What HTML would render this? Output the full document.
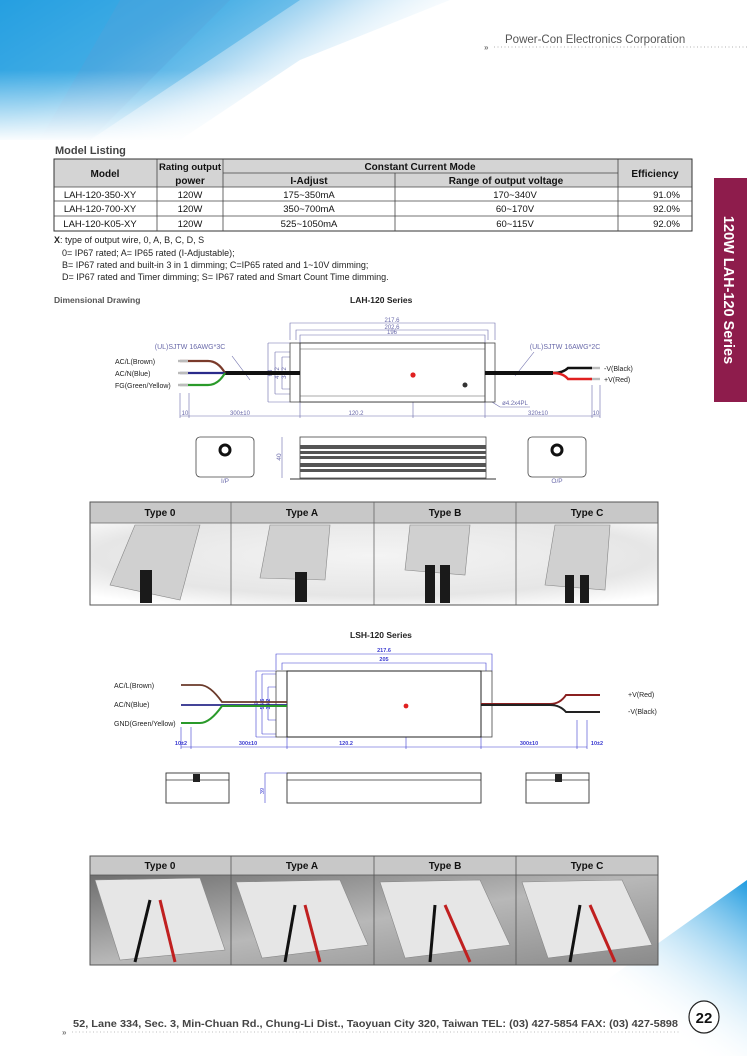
<!DOCTYPE html>
<html><head><meta charset="utf-8"><style>
html,body{margin:0;padding:0;background:#fff}
body{width:747px;height:1056px;position:relative;overflow:hidden;font-family:"Liberation Sans",sans-serif}
svg text{font-family:"Liberation Sans",sans-serif}
</style></head><body>
<svg width="747" height="1056" viewBox="0 0 747 1056" xmlns="http://www.w3.org/2000/svg">
<defs>
<linearGradient id="hd" x1="0" y1="0" x2="1" y2="0.5">
<stop offset="0" stop-color="#1e9be0"/><stop offset="0.35" stop-color="#4fb2e6"/><stop offset="0.6" stop-color="#b9def4"/><stop offset="0.9" stop-color="#fff" stop-opacity="0"/></linearGradient>
<linearGradient id="hd2" x1="0" y1="0" x2="0" y2="1"><stop offset="0" stop-color="#fff" stop-opacity="0"/><stop offset="1" stop-color="#fff"/></linearGradient>
<linearGradient id="ft" x1="0" y1="1" x2="1" y2="0"><stop offset="0.4" stop-color="#fff" stop-opacity="0"/><stop offset="1" stop-color="#1e9be0"/></linearGradient>
<radialGradient id="ph" cx="0.5" cy="0.4" r="0.7"><stop offset="0" stop-color="#f4f4f4"/><stop offset="0.7" stop-color="#e6e6e6"/><stop offset="1" stop-color="#fff"/></radialGradient>
<linearGradient id="ph2" x1="0" y1="0" x2="1" y2="1"><stop offset="0" stop-color="#6e6e6e"/><stop offset="0.5" stop-color="#b8b8b8"/><stop offset="1" stop-color="#8a8a8a"/></linearGradient>
</defs>
<!-- header background -->
<polygon points="0,0 450,0 300,60 180,140 0,140" fill="url(#hd)"/>
<polygon points="0,0 300,0 150,100 90,140 0,140" fill="#2fa4e3" opacity="0.45"/>
<polygon points="120,0 230,0 90,140 40,140" fill="#5aa0d8" opacity="0.3"/>
<rect x="0" y="70" width="460" height="72" fill="url(#hd2)"/>
<text x="505" y="43" font-size="11.5" fill="#555">Power-Con Electronics Corporation</text>
<text x="484" y="50" font-size="8" fill="#777" font-weight="bold">»</text>
<line x1="494" y1="47" x2="747" y2="47" stroke="#999" stroke-width="0.8" stroke-dasharray="1,2.5"/>
<!-- footer bg -->
<polygon points="500,1056 747,880 747,1056" fill="url(#ft)"/>
<text x="73" y="1027" font-size="10.5" font-weight="bold" fill="#444" textLength="605" lengthAdjust="spacingAndGlyphs">52, Lane 334, Sec. 3, Min-Chuan Rd., Chung-Li Dist., Taoyuan City 320, Taiwan  TEL: (03) 427-5854   FAX: (03) 427-5898</text>
<text x="62" y="1035" font-size="8" fill="#777" font-weight="bold">»</text>
<line x1="72" y1="1032" x2="680" y2="1032" stroke="#aaa" stroke-width="0.8" stroke-dasharray="1,2.5"/>
<ellipse cx="704" cy="1017" rx="15" ry="16" fill="#fff" stroke="#222" stroke-width="1.2"/>
<text x="704" y="1023" font-size="15" font-weight="bold" text-anchor="middle" fill="#111">22</text>
<!-- sidebar -->
<rect x="714" y="178" width="33" height="224" fill="#8e1c4c"/>
<text transform="translate(724,290) rotate(90)" font-size="14.5" font-weight="bold" fill="#fff" text-anchor="middle">120W LAH-120 Series</text>
<!-- model listing -->
<text x="55" y="154" font-size="11" font-weight="bold" fill="#444">Model Listing</text>
<g font-size="9.5" fill="#111" text-anchor="middle">
<rect x="54" y="159" width="638" height="28" fill="#d4d4d4"/>
<rect x="54" y="159" width="638" height="72" fill="none" stroke="#333" stroke-width="1"/>
<g stroke="#444" stroke-width="0.8">
<line x1="157" y1="159" x2="157" y2="231"/><line x1="223" y1="159" x2="223" y2="231"/>
<line x1="395" y1="173" x2="395" y2="231"/><line x1="618" y1="159" x2="618" y2="231"/>
<line x1="223" y1="173" x2="618" y2="173"/>
<line x1="54" y1="187" x2="692" y2="187"/><line x1="54" y1="201" x2="692" y2="201"/><line x1="54" y1="216" x2="692" y2="216"/>
</g>
<g font-weight="bold" font-size="10">
<text x="105" y="177">Model</text><text x="190" y="170" font-size="9.5" textLength="62" lengthAdjust="spacingAndGlyphs">Rating output</text><text x="190" y="184">power</text>
<text x="420" y="170">Constant Current Mode</text><text x="309" y="184">I-Adjust</text><text x="506" y="184">Range of output voltage</text>
<text x="655" y="177">Efficiency</text></g>
<text x="100" y="198">LAH-120-350-XY</text><text x="190" y="198">120W</text><text x="309" y="198">175~350mA</text><text x="515" y="198">170~340V</text><text x="680" y="198" text-anchor="end">91.0%</text>
<text x="100" y="212">LAH-120-700-XY</text><text x="190" y="212">120W</text><text x="309" y="212">350~700mA</text><text x="515" y="212">60~170V</text><text x="680" y="212" text-anchor="end">92.0%</text>
<text x="100" y="227">LAH-120-K05-XY</text><text x="190" y="227">120W</text><text x="309" y="227">525~1050mA</text><text x="515" y="227">60~115V</text><text x="680" y="227" text-anchor="end">92.0%</text>
</g>
<g font-size="9" fill="#222">
<text x="54" y="243"><tspan font-weight="bold">X</tspan>: type of output wire, 0, A, B, C, D, S</text>
<text x="62" y="256">0= IP67 rated; A= IP65 rated (I-Adjustable);</text>
<text x="62" y="268">B= IP67 rated and built-in 3 in 1 dimming; C=IP65 rated and 1~10V dimming;</text>
<text x="62" y="280">D= IP67 rated and Timer dimming; S= IP67 rated and Smart Count Time dimming.</text>
</g>
<text x="54" y="303" font-size="8.5" font-weight="bold" fill="#555">Dimensional Drawing</text>
<text x="350" y="303" font-size="8.5" font-weight="bold" fill="#222">LAH-120 Series</text>
<!-- LAH drawing -->
<g stroke="#6a6aaa" stroke-width="0.6" fill="none">
<path d="M290,340 V323 H495 V340"/><path d="M296,340 V330 H488 V340"/><path d="M300,343 V335 H485 V343"/>
<path d="M268,343 H290 M268,402 H290 M268,343 V402"/><path d="M275,352 H290 M275,394 H290 M275,352 V394"/><path d="M282,357 H290 M282,389 H290 M282,357 V389"/>
<path d="M180,393 V418 M189,393 V418 M300,402 V418 M413,373 V418 M485,402 V418 M592,385 V418 M600,385 V418 M180,416 H600"/>
<path d="M416,373 H430 V402"/><path d="M250,380 L232,356"/><path d="M515,376 L534,352"/><path d="M492,402 L500,407 H530"/>
</g>
<g fill="#6a6aaa" font-size="6" text-anchor="middle">
<text x="392" y="322">217.6</text><text x="392" y="329">202.6</text><text x="392" y="334">196</text>
<text x="185" y="415">10</text><text x="240" y="415">300±10</text><text x="356" y="415">120.2</text><text x="538" y="415">320±10</text><text x="596" y="415">10</text>
<text transform="translate(272,373) rotate(-90)">63</text><text transform="translate(279,373) rotate(-90)">47.2</text><text transform="translate(286,373) rotate(-90)">34.2</text>
<text transform="translate(429,389) rotate(-90)">30</text><text x="515" y="405">ø4.2x4PL</text>
<text font-size="7" x="190" y="349">(UL)SJTW 16AWG*3C</text><text font-size="7" x="565" y="349">(UL)SJTW 16AWG*2C</text>
<text font-size="7" x="414" y="369">T-CASE</text></g>
<rect x="290" y="343" width="205" height="59" fill="none" stroke="#444" stroke-width="0.8"/>
<rect x="300" y="343" width="185" height="59" fill="#fff" stroke="#333" stroke-width="0.9"/>
<line x1="300" y1="349" x2="485" y2="349" stroke="#555" stroke-width="0.5"/><line x1="300" y1="396" x2="485" y2="396" stroke="#555" stroke-width="0.5"/>
<rect x="225" y="371" width="75" height="4" fill="#111"/>
<rect x="485" y="371" width="68" height="4" fill="#111"/>
<path d="M180,361 H208 Q218,361 225,373" stroke="#7a3a2a" stroke-width="2.2" fill="none"/>
<path d="M180,373 H225" stroke="#2a2a8a" stroke-width="2.2"/>
<path d="M180,385 H208 Q218,385 225,373" stroke="#2a9a2a" stroke-width="2.2" fill="none"/>
<g stroke="#bbb" stroke-width="2.4"><line x1="178" y1="361" x2="188" y2="361"/><line x1="178" y1="373" x2="188" y2="373"/><line x1="178" y1="385" x2="188" y2="385"/><line x1="590" y1="368" x2="600" y2="368"/><line x1="590" y1="379" x2="600" y2="379"/></g>
<path d="M553,373 Q563,373 568,368 H592" stroke="#111" stroke-width="2.4" fill="none"/>
<path d="M553,373 Q563,373 568,379 H592" stroke="#e02020" stroke-width="2.4" fill="none"/>
<circle cx="413" cy="375" r="2.6" fill="#e02020"/><circle cx="465" cy="385" r="2.5" fill="#333"/>
<g font-size="7" fill="#222"><text x="115" y="364">AC/L(Brown)</text><text x="115" y="376">AC/N(Blue)</text><text x="115" y="388">FG(Green/Yellow)</text>
<text x="604" y="371">-V(Black)</text><text x="604" y="382">+V(Red)</text></g>
<!-- LAH lower views -->
<g stroke="#444" stroke-width="0.8" fill="#fff">
<rect x="196" y="437" width="58" height="40" rx="4"/><rect x="528" y="437" width="58" height="40" rx="4"/>
<rect x="300" y="437" width="186" height="41"/>
</g>
<circle cx="225" cy="450" r="5" fill="none" stroke="#111" stroke-width="3"/><circle cx="557" cy="450" r="5" fill="none" stroke="#111" stroke-width="3"/>
<g fill="#555"><rect x="300" y="445" width="186" height="4"/><rect x="300" y="451" width="186" height="3"/><rect x="300" y="456" width="186" height="3"/><rect x="300" y="463" width="186" height="4"/><rect x="300" y="469" width="186" height="3"/></g>
<line x1="290" y1="479" x2="496" y2="479" stroke="#333" stroke-width="1"/>
<path d="M282,437 V478" stroke="#6a6aaa" stroke-width="0.6"/>
<g font-size="6.5" fill="#6a6aaa" text-anchor="middle"><text x="225" y="483">I/P</text><text x="557" y="483">O/P</text><text transform="translate(281,457) rotate(-90)">40</text></g>
<!-- type grid 1 -->
<g>
<rect x="90" y="502" width="568" height="21" fill="#c8c8c8"/>
<rect x="90" y="523" width="568" height="82" fill="url(#ph)"/>
<rect x="90" y="502" width="568" height="103" fill="none" stroke="#555" stroke-width="1"/>
<g stroke="#666" stroke-width="0.8"><line x1="90" y1="523" x2="658" y2="523"/><line x1="231" y1="502" x2="231" y2="605"/><line x1="374" y1="502" x2="374" y2="605"/><line x1="516" y1="502" x2="516" y2="605"/></g>
<g font-size="10" font-weight="bold" text-anchor="middle" fill="#111"><text x="160" y="516">Type 0</text><text x="302" y="516">Type A</text><text x="445" y="516">Type B</text><text x="587" y="516">Type C</text></g>
<g fill="#d0d0d0" stroke="#888" stroke-width="0.6">
<polygon points="135,525 200,525 180,600 110,585"/><polygon points="270,525 330,525 325,580 260,578"/><polygon points="410,525 470,525 465,575 405,570"/><polygon points="555,525 610,525 605,590 545,585"/></g>
<g fill="#1a1a1a"><rect x="140" y="570" width="12" height="33"/><rect x="295" y="572" width="12" height="30"/><rect x="425" y="565" width="10" height="38"/><rect x="440" y="565" width="10" height="38"/><rect x="565" y="575" width="9" height="28"/><rect x="580" y="575" width="9" height="28"/></g>
</g>
<text x="350" y="638" font-size="8.5" font-weight="bold" fill="#222">LSH-120 Series</text>
<!-- LSH drawing -->
<g stroke="#3a3ad0" stroke-width="0.6" fill="none">
<path d="M276,670 V654 H492 V671"/><path d="M282,670 V663 H486 V671"/>
<path d="M256,671 H276 M256,737 H276 M256,671 V737"/><path d="M262,674 H276 M262,734 H276 M262,674 V734"/><path d="M268,687 H276 M268,720 H276 M268,687 V720"/>
<path d="M181,727 V749 M191,727 V749 M287,737 V749 M406,706 V749 M481,737 V749 M577,720 V749 M587,720 V749 M181,747 H587"/>
<path d="M409,706 H423 V737"/>
</g>
<g fill="#3a3ad0" font-size="5.5" text-anchor="middle" font-weight="bold">
<text x="384" y="652">217.6</text><text x="384" y="661">205</text>
<text x="181" y="745">10±2</text><text x="248" y="745">300±10</text><text x="346" y="745">120.2</text><text x="529" y="745">300±10</text><text x="597" y="745">10±2</text>
<text transform="translate(258,704) rotate(-90)">63</text><text transform="translate(264,704) rotate(-90)">56.6</text><text transform="translate(270,704) rotate(-90)">34.2</text>
<text transform="translate(423,722) rotate(-90)">30</text></g>
<text x="430" y="701" font-size="8" fill="#5a5ac0" text-anchor="middle" font-family="Liberation Serif">T-CASE</text>
<rect x="276" y="671" width="216" height="66" fill="none" stroke="#444" stroke-width="0.8"/>
<rect x="287" y="671" width="194" height="66" fill="#fff" stroke="#222" stroke-width="1"/>
<path d="M181,685 H200 Q210,685 222,702 H287" stroke="#6a3a2a" stroke-width="1.8" fill="none"/>
<path d="M181,705 H287" stroke="#2a2a8a" stroke-width="1.8"/>
<path d="M181,723 H200 Q210,723 222,706 H287" stroke="#2a9a2a" stroke-width="2" fill="none"/>
<path d="M481,704 H550 Q560,704 566,695 H600" stroke="#8a2020" stroke-width="2" fill="none"/>
<path d="M481,705 H550 Q560,705 566,712 H600" stroke="#222" stroke-width="2" fill="none"/>
<circle cx="406" cy="706" r="2.4" fill="#e02020"/>
<g font-size="7" fill="#222"><text x="114" y="688">AC/L(Brown)</text><text x="114" y="707">AC/N(Blue)</text><text x="114" y="726">GND(Green/Yellow)</text>
<text x="628" y="697">+V(Red)</text><text x="628" y="714">-V(Black)</text></g>
<!-- LSH lower views -->
<g stroke="#333" stroke-width="0.9" fill="#fff">
<rect x="166" y="773" width="63" height="30"/><rect x="526" y="773" width="63" height="30"/><rect x="287" y="773" width="194" height="30"/>
</g>
<g stroke="#333" stroke-width="0.8"><line x1="166" y1="780" x2="229" y2="780"/><line x1="526" y1="780" x2="589" y2="780"/><line x1="287" y1="780" x2="481" y2="780"/></g>
<g fill="#222"><rect x="193" y="774" width="7" height="8"/><rect x="555" y="774" width="7" height="8"/></g>
<path d="M265,773 V803 M265,773 H287" stroke="#3a3ad0" stroke-width="0.6"/>
<text transform="translate(264,791) rotate(-90)" font-size="5.5" fill="#3a3ad0" text-anchor="middle">39</text>
<!-- type grid 2 -->
<g>
<rect x="90" y="856" width="568" height="19" fill="#c8c8c8"/>
<rect x="90" y="875" width="568" height="90" fill="url(#ph2)"/>
<rect x="90" y="856" width="568" height="109" fill="none" stroke="#555" stroke-width="1"/>
<g stroke="#555" stroke-width="0.8"><line x1="90" y1="875" x2="658" y2="875"/><line x1="231" y1="856" x2="231" y2="965"/><line x1="374" y1="856" x2="374" y2="965"/><line x1="516" y1="856" x2="516" y2="965"/></g>
<g font-size="10" font-weight="bold" text-anchor="middle" fill="#111"><text x="160" y="869">Type 0</text><text x="302" y="869">Type A</text><text x="445" y="869">Type B</text><text x="587" y="869">Type C</text></g>
<g fill="#e6e6e6" stroke="#888" stroke-width="0.6">
<polygon points="95,880 200,878 225,950 120,960"/><polygon points="236,882 340,880 368,945 262,958"/><polygon points="380,882 480,880 510,945 405,958"/><polygon points="522,882 622,880 652,945 548,958"/></g>
<g stroke="#c02020" stroke-width="3"><line x1="160" y1="900" x2="175" y2="962"/><line x1="305" y1="905" x2="320" y2="962"/><line x1="445" y1="905" x2="470" y2="962"/><line x1="590" y1="905" x2="615" y2="962"/></g>
<g stroke="#111" stroke-width="3"><line x1="150" y1="900" x2="135" y2="962"/><line x1="295" y1="905" x2="285" y2="962"/><line x1="435" y1="905" x2="430" y2="962"/><line x1="580" y1="905" x2="570" y2="962"/></g>
</g>
</svg>
</body></html>
